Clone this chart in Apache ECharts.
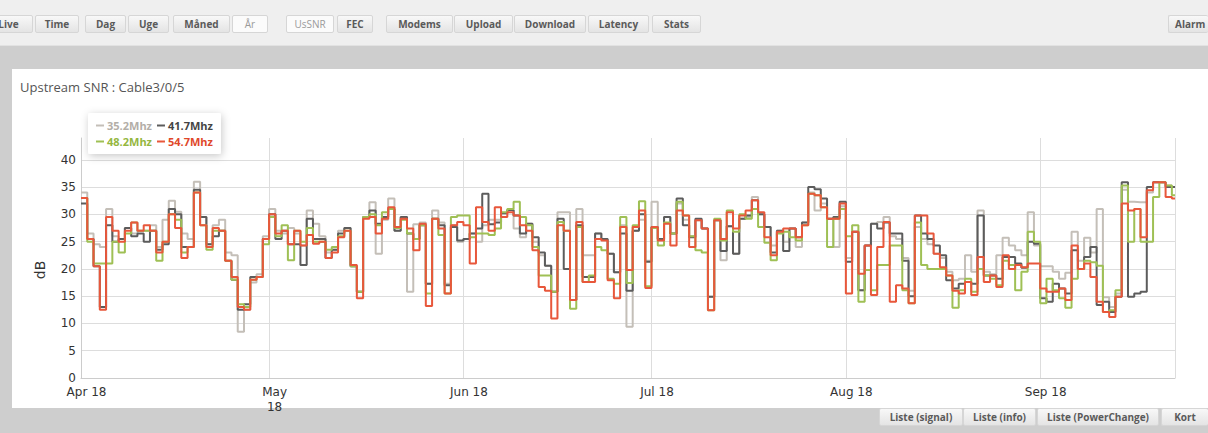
<!DOCTYPE html>
<html><head><meta charset="utf-8">
<script src="https://cdn.jsdelivr.net/npm/echarts@6/dist/echarts.min.js"></script>
<style>
html,body{margin:0;padding:0;width:1208px;height:433px;overflow:hidden;background:#cecece;font-family:"Open Sans",sans-serif;}
#top{position:absolute;left:0;top:0;width:1208px;height:45px;background:#efefef;border-bottom:1px solid #e2e2e2;}
.btn{position:absolute;height:18px;line-height:16px;font-size:10px;font-weight:bold;color:#5a5a5a;text-align:center;background:linear-gradient(#f8f8f8,#e4e4e4);border:1px solid #d6d6d6;border-radius:2px;box-sizing:border-box;white-space:nowrap;overflow:hidden;}
.btn.on{background:#fbfbfb;color:#9a9a9a;font-weight:normal;}
#panel{position:absolute;left:12px;top:69px;width:1196px;height:339px;background:#fff;}
#chart{position:absolute;left:0;top:0;width:1208px;height:433px;}
</style>
</head><body>
<div id="top"></div>
<div id="panel"></div>
<div id="chart"></div>
<script>
// ---- data ----
const seriesNames = ['35.2Mhz', '41.7Mhz', '48.2Mhz', '54.7Mhz'];
const monthTickLabels = ['Jan 18','Feb 18','Mar 18','Apr 18','May\n18','Jun 18','Jul 18','Aug 18','Sep 18','Oct 18','Nov 18','Dec 18'];
const s352 = [
 34, 26.5, 24.5, 24, 31, 26, 25.5, 27.5, 26.5, 27,
 27, 28, 24, 29, 32.5, 30.5, 26.5, 25.5, 36, 29.5,
 24.5, 28, 29, 23, 22.5, 8.5, 12.5, 17.5, 19, 26,
 31, 27, 26.5, 27.5, 26.5, 24.3, 30.7, 28.3, 26, 23,
 23.5, 27, 27.5, 20.5, 15.8, 29.5, 32.2, 22.8, 29, 32.9,
 27, 29.5, 15.8, 28.2, 28.5, 17.3, 30.7, 28.5, 17.3, 28,
 25, 25.5, 26.5, 25, 28, 29, 29, 30.2, 30.8, 27.4,
 25.8, 28.3, 25, 22.5, 20.6, 15.8, 30.4, 30.4, 14.3, 31,
 22.5, 22.5, 26.5, 25.5, 22.8, 19.4, 28, 9.4, 27, 29,
 21.5, 32.3, 25.5, 29.5, 26.5, 32, 29, 26, 28.9, 27.4,
 14.9, 28.9, 21.6, 27.8, 22.8, 29.2, 29.5, 33.2, 30, 27.7,
 24.3, 27, 25, 27.4, 24, 28.5, 34, 30.7, 32, 29.2,
 24, 31.5, 22, 26.8, 16.1, 24.3, 28.3, 28.6, 29.5, 26,
 25.5, 22, 16, 27.7, 25.5, 24.5, 22.8, 22, 19.5, 17.9,
 18.2, 22.5, 19.5, 30.7, 19.5, 19, 22.5, 25.7, 24.3, 23.4,
 22.5, 30.4, 24.3, 20.5, 20.5, 19.5, 18.2, 19.3, 26.8, 21.5,
 25.7, 23, 31, 14.8, 13, 15.5, 34.5, 32.3, 32.2, 32.2,
 34, 35.9, 35.9, 35.3, 35
];
const s417 = [
 32, 25.5, 20.5, 13, 28, 25, 25.5, 27.5, 26, 26.5,
 25, 27, 23.5, 24.5, 31, 30, 24, 24, 34.5, 29.5,
 24.5, 26, 27, 21.5, 18, 12.5, 13.5, 18.5, 18.5, 25.5,
 30, 25.5, 27, 24.5, 24.5, 20.7, 29.2, 25.5, 25.5, 22,
 23.5, 26.5, 27.5, 20.5, 15.8, 29.5, 30.7, 28.3, 29.5, 31,
 27, 29.5, 26.5, 25.5, 28, 17.3, 29.2, 28, 17, 27.7,
 25.2, 25.5, 26.5, 27.4, 33.8, 28.2, 28.5, 30.2, 30.8, 29.8,
 26.5, 28.3, 25.8, 23, 20.6, 15.8, 29.2, 20, 14.3, 28,
 18.5, 18.5, 26.5, 25.5, 22.8, 19.4, 26.5, 16, 27, 30,
 21.3, 27.7, 25.5, 29.5, 26.5, 32.9, 28, 25.8, 29.2, 27.4,
 14.9, 28.9, 23.3, 27.8, 22.8, 29.2, 29.8, 32.6, 30, 27.7,
 23, 27, 23.3, 27.4, 25.8, 28.5, 35, 34.6, 32.9, 29.2,
 29.5, 32.3, 21.3, 26.8, 16.1, 24.3, 28.3, 27.4, 28.5, 26.5,
 26.5, 21.5, 15, 29.8, 26.5, 25.5, 24.3, 22.5, 17.9, 16.4,
 17.3, 17.6, 17.3, 29.8, 18.8, 18.8, 18.2, 22.2, 22.2, 21,
 20.2, 25, 24.6, 14.6, 14, 17.3, 16.4, 15.5, 23.4, 20,
 22.2, 24, 13.4, 14, 12.1, 14.9, 35.9, 14.9, 15.5, 15.8,
 35, 35.9, 35.9, 35, 35
];
const s482 = [
 33, 25, 21, 21, 21, 25, 23, 26.5, 28.5, 27,
 27, 27, 21.5, 25, 30, 29, 23, 24, 34, 28,
 23.5, 27, 27, 21.5, 18, 13.5, 13, 18, 18.5, 24.5,
 29.5, 26, 28, 21.6, 27, 25, 27.5, 25, 25, 23.5,
 24, 26, 27, 20.5, 15.8, 29.5, 30, 28, 30.4, 31,
 27.5, 29, 26.5, 25.5, 28, 15.5, 29.2, 26.2, 15.5, 29.5,
 29.8, 29.8, 25.8, 26.5, 26.5, 26.2, 27.4, 30.4, 31, 32.3,
 29.5, 28, 24, 18.8, 18.8, 15.8, 28.6, 27, 12.7, 27.7,
 17.6, 18.8, 24, 23.4, 18.2, 17.3, 29.5, 17.4, 28, 32.4,
 16.8, 27.5, 24.3, 28.5, 26.5, 32.3, 29.8, 26, 23.4, 23,
 12.4, 29.2, 25.2, 30.7, 26.8, 30, 29.2, 31, 27.7, 24.8,
 21.6, 26.5, 26.8, 25.8, 25.2, 28, 33.8, 33.5, 31.3, 24,
 29.2, 31, 26, 28, 14, 19.8, 16.1, 20.7, 20.7, 24.3,
 24.3, 16.1, 13.7, 28.5, 20.7, 20, 20, 20, 18.8, 12.9,
 16.1, 18.2, 15.8, 20, 18.8, 18.2, 17, 21.5, 20.7, 16.1,
 19.5, 26.8, 25, 13.7, 18.2, 16.1, 14.6, 12.9, 18.2, 20,
 21.5, 21.2, 20.6, 12.1, 12.4, 16.1, 35.3, 25, 31, 25,
 25, 33.2, 35.9, 35.3, 33.5
];
const s547 = [
 33, 25.5, 20.5, 12.5, 29.5, 27, 25, 27, 28.5, 27,
 28, 27, 23, 25, 30, 27.5, 22, 24, 34, 28,
 24, 27.5, 27, 21.5, 18.5, 13, 12.5, 18, 18.5, 25.5,
 30, 26.5, 27, 24.5, 27, 24.3, 26.2, 24.6, 25, 22,
 23, 25.8, 27, 20.7, 14.6, 29.2, 29.5, 26.5, 29.2, 31.3,
 27.7, 29.2, 27.4, 23.4, 28.3, 13.2, 29.2, 27.4, 15.5, 28,
 28.6, 28, 21, 31.3, 28.6, 27, 31.3, 29.5, 30.4, 29.8,
 28, 27, 23.4, 16.7, 16, 10.9, 28, 27, 14.3, 28.6,
 17.6, 17.6, 25.5, 25.2, 17.9, 14.6, 27.7, 19.8, 27.7, 30.7,
 16.5, 27.7, 25.2, 28.3, 24.3, 30.7, 29.8, 24, 28.9, 27.4,
 12.4, 28.9, 25.5, 30.4, 27.4, 29.8, 30.7, 32.6, 30.4, 25.8,
 22.5, 26.8, 27.4, 27.4, 25.8, 28, 33.8, 33.5, 31.3, 29.2,
 29.2, 32, 15.5, 26.8, 19.1, 24.3, 15.2, 24, 28.6, 14,
 17, 16.4, 13.7, 29.8, 29.8, 26.5, 22.8, 20.3, 18.8, 16,
 15.5, 17.6, 15.2, 22.2, 17.6, 18.8, 16.7, 22.5, 20, 20.7,
 20.3, 21, 21, 16.4, 15.8, 15.8, 16.4, 14.3, 24.3, 20,
 21, 18.5, 14, 12.1, 11.2, 14.9, 32, 30.7, 31, 25.8,
 34.4, 35.9, 35.9, 33.2, 32.9
];
const topButtons = ['Live','Time','Dag','Uge','Måned','År','UsSNR','FEC','Modems','Upload','Download','Latency','Stats','Alarm'];
const bottomButtons = ['Liste (signal)','Liste (info)','Liste (PowerChange)','Kort'];

// ---- page chrome (layout only) ----
const topPos = [[-16,49],[35,44],[85,41],[128,41],[173,57],[232,36],[286,48],[337,36],[386,67],[454,59],[514,72],[588,61],[652,49],[1168,40]];
const topActive = {'År':1,'UsSNR':1};
topButtons.forEach((t,i)=>{
  const b=document.createElement('div');b.className='btn'+(topActive[t]?' on':'');b.textContent=t;
  b.style.left=topPos[i][0]+'px';b.style.width=topPos[i][1]+'px';b.style.top='15px';
  if (t==='Alarm'){b.style.textAlign='left';b.style.paddingLeft='6px';b.style.borderRight='none';}
  document.body.appendChild(b);
});
const botPos = [[879,84],[963,73],[1037,122],[1161,60]];
bottomButtons.forEach((t,i)=>{
  const b=document.createElement('div');b.className='btn';b.textContent=t;
  b.style.left=botPos[i][0]+'px';b.style.width=botPos[i][1]+'px';b.style.top='408px';
  if (t==='Kort'){b.style.width='47px';b.style.borderRight='none';}
  document.body.appendChild(b);
});

// ---- chart ----
const colors = ['#c4bfb8', '#5c5c5c', '#9fc055', '#e8573b'];
const legendColors = ['#b3aea7', '#444444', '#95b73f', '#e0482a'];
const values = [s352, s417, s482, s547];
const DAY = 864e5;
const t0 = new Date(2018, 3, 1).getTime();
const tEnd = t0 + 174.5 * DAY;
function toPoints(arr) {
  const pts = arr.map((v, d) => [new Date(2018, 3, 1 + d).getTime(), v]);
  pts.push([tEnd, arr[arr.length - 1]]);
  return pts;
}
const chart = echarts.init(document.getElementById('chart'), null, {renderer: 'svg'});
chart.setOption({
  animation: false,
  backgroundColor: 'transparent',
  title: {
    text: 'Upstream SNR : Cable3/0/5', left: 20, top: 80, padding: 0,
    textStyle: {fontSize: 13, fontWeight: 'normal', color: '#555', fontFamily: 'Open Sans'}
  },
  legend: {
    left: 88, top: 113, width: 122, padding: [7, 8, 7, 8], itemGap: 5,
    itemWidth: 8, itemHeight: 2, icon: 'rect', selectedMode: false,
    backgroundColor: '#fff', borderRadius: 2,
    shadowBlur: 8, shadowColor: 'rgba(0,0,0,0.22)', shadowOffsetX: 1, shadowOffsetY: 2,
    textStyle: {fontFamily: 'Open Sans', fontWeight: 'bold', fontSize: 11, padding: [0, 0, 0, -2]},
    data: seriesNames.map((n, i) => ({name: n, itemStyle: {color: colors[i]}, textStyle: {color: legendColors[i]}}))
  },
  grid: {left: 81, right: 33, top: 138, bottom: 55},
  xAxis: {
    type: 'time', min: t0, max: tEnd,
    minInterval: 28 * DAY, maxInterval: 31 * DAY,
    axisLine: {show: true, lineStyle: {color: '#cccccc'}},
    axisTick: {show: false},
    splitLine: {show: true, lineStyle: {color: '#dddddd'}},
    axisLabel: {
      color: '#333', fontSize: 12, fontFamily: 'DejaVu Sans', margin: 6,
      padding: [0, 0, 0, 11], showMaxLabel: false, hideOverlap: false, lineHeight: 15,
      formatter: function (val) {
        const d = new Date(val);
        if (d.getDate() !== 1 || d.getHours() !== 0) return '';
        return monthTickLabels[d.getMonth()];
      }
    }
  },
  yAxis: {
    type: 'value', min: 0, max: 44, interval: 5,
    name: 'dB', nameLocation: 'middle', nameGap: 34,
    nameTextStyle: {fontSize: 14, color: '#333', fontFamily: 'DejaVu Sans', padding: [0, 24, 0, 0]},
    axisLine: {show: true, lineStyle: {color: '#cccccc'}},
    axisTick: {show: false},
    axisLabel: {color: '#333', fontSize: 12, fontFamily: 'DejaVu Sans', margin: 5,
      formatter: v => (v % 5 === 0 ? String(v) : '')},
    splitLine: {show: true, showMaxLine: false, lineStyle: {color: '#dddddd'}}
  },
  series: seriesNames.map((n, i) => ({
    name: n, type: 'line', step: 'end', symbol: 'none', showSymbol: false,
    data: toPoints(values[i]), z: 2 + i,
    lineStyle: {width: 2, color: colors[i]}, itemStyle: {color: colors[i]}
  }))
});
</script>
</body></html>
